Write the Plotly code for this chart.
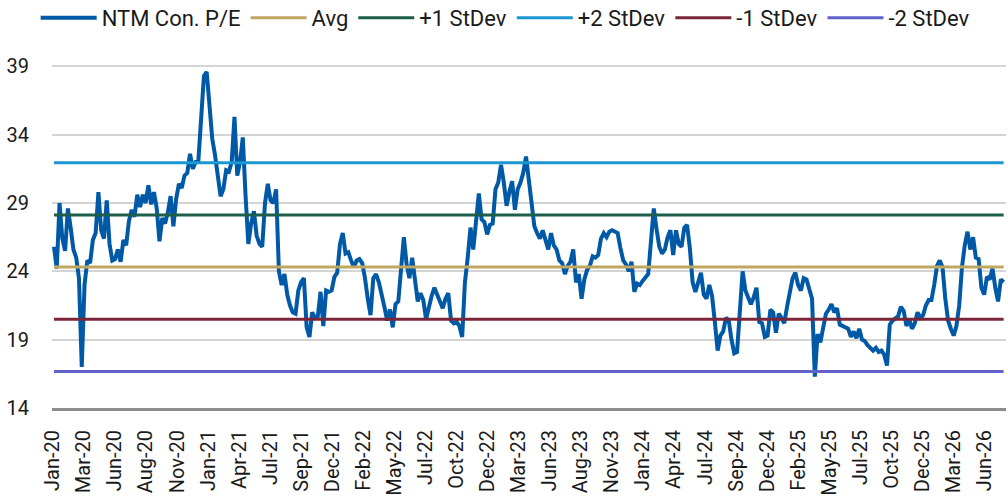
import plotly.graph_objects as go
import pandas as pd

# weekly NTM consensus P/E
pe = [
    25.8, 24.2, 29.0, 26.4, 25.5, 28.6, 27.2, 25.6, 25.0, 23.5,
    17.0, 23.0, 24.8, 24.6, 26.3, 26.8, 29.8, 27.0, 26.4, 29.2,
    26.0, 24.8, 24.9, 25.6, 24.7, 26.3, 25.9, 27.7, 28.5, 28.0,
    29.6, 28.7, 29.6, 29.0, 30.3, 28.9, 29.8, 28.6, 26.2, 27.9,
    27.5, 28.3, 29.5, 27.3, 29.3, 30.4, 30.1, 31.0, 31.2, 32.6,
    31.5, 32.0, 32.1, 35.6, 38.3, 38.6, 36.5, 33.7, 32.5, 31.0,
    29.5, 30.0, 31.4, 31.3, 32.0, 35.3, 31.0, 32.0, 33.8, 29.5,
    26.0, 27.5, 28.4, 26.6, 26.0, 25.8, 29.0, 30.4, 29.2, 29.0,
    30.0, 24.0, 23.0, 23.8, 22.3, 21.5, 21.0, 20.9, 22.6, 23.2,
    23.5, 19.9, 19.2, 21.0, 20.6, 20.7, 22.5, 20.0, 22.6, 22.5,
    22.6, 23.6, 23.9, 26.0, 26.8, 25.3, 25.4, 24.8, 24.3, 24.8,
    24.9, 24.6, 23.5, 22.0, 20.8, 23.5, 23.8, 23.2, 22.4, 21.4,
    20.4, 21.2, 19.9, 21.6, 21.8, 24.0, 26.5, 24.5, 23.5, 25.0,
    23.3, 21.8, 22.4, 21.9, 20.5, 21.5, 22.2, 22.8, 22.3, 21.8,
    21.3, 22.0, 22.4, 20.4, 20.2, 20.3, 20.0, 19.2, 23.2, 25.0,
    27.2, 25.6, 27.9, 29.7, 27.8, 27.6, 26.7, 27.4, 27.5, 30.0,
    30.5, 31.8, 30.5, 28.8, 29.8, 30.6, 28.5, 30.0, 30.5, 31.2,
    32.4, 30.6, 28.9, 27.3, 26.8, 26.4, 27.0, 26.2, 25.6, 26.8,
    25.9, 25.6, 24.8, 24.6, 23.8, 24.4, 24.7, 25.6, 23.2, 23.8,
    22.0, 23.4, 24.1, 24.4, 25.1, 25.0, 25.2, 26.4, 26.8, 26.5,
    26.9, 27.0, 26.9, 26.8, 25.7, 24.8, 24.5, 24.0, 24.7, 22.5,
    23.1, 23.0, 23.3, 23.5, 23.8, 26.2, 28.6, 27.1, 25.8, 25.3,
    25.6, 26.5, 27.0, 25.2, 27.0, 26.0, 25.8, 27.2, 27.4, 25.7,
    23.2, 22.5, 23.1, 23.9, 22.3, 22.0, 23.0, 22.2, 20.3, 18.2,
    19.3, 19.6, 20.6, 20.4, 19.0, 18.0, 18.1, 20.6, 24.0, 22.6,
    22.0, 21.6, 22.1, 22.8, 20.3, 20.2, 19.2, 19.3, 21.2, 21.0,
    19.5, 20.9, 20.6, 20.2, 21.4, 22.6, 23.5, 23.9, 23.0, 22.6,
    23.5, 23.4, 22.8, 22.0, 16.3, 19.4, 18.8, 20.0, 20.9, 21.2,
    21.6, 21.0, 21.3, 20.1, 20.0, 19.9, 19.8, 19.2, 19.6, 19.1,
    19.8, 19.0, 18.9, 18.6, 18.4, 18.2, 18.4, 18.1, 18.2, 17.9,
    17.1, 20.1, 20.4, 20.6, 20.7, 21.4, 21.1, 20.0, 20.5, 19.8,
    20.2, 21.0, 20.6, 20.8, 21.5, 21.9, 21.9, 23.0, 24.4, 24.8,
    24.3, 22.0, 20.4, 19.8, 19.3, 20.0, 21.5, 24.3, 25.9, 26.9,
    25.6, 26.5, 25.0, 24.9, 22.8, 22.3, 23.6, 23.4, 24.2, 22.8,
    21.8, 23.4, 23.2,
]
dates = pd.date_range('2020-01-03', periods=len(pe), freq='7D')

avg = 24.31
sd = 3.82

tick_labels = [
    'Jan-20', 'Mar-20', 'Jun-20', 'Aug-20', 'Nov-20', 'Jan-21', 'Apr-21',
    'Jul-21', 'Sep-21', 'Dec-21', 'Feb-22', 'May-22', 'Jul-22', 'Oct-22',
    'Dec-22', 'Mar-23', 'Jun-23', 'Aug-23', 'Nov-23', 'Jan-24', 'Apr-24',
    'Jul-24', 'Sep-24', 'Dec-24', 'Feb-25', 'May-25', 'Jul-25', 'Oct-25',
    'Dec-25', 'Mar-26', 'Jun-26',
]
# axis labels are spaced evenly, about 78.3 days apart
tick_vals = [pd.Timestamp('2019-12-31') + pd.Timedelta(days=78.3 * k)
             for k in range(len(tick_labels))]

bands = [
    ('Avg', avg, '#BFA661'),
    ('+1 StDev', avg + sd, '#1D5E4B'),
    ('+2 StDev', avg + 2 * sd, '#1B97D1'),
    ('-1 StDev', avg - sd, '#7B2638'),
    ('-2 StDev', avg - 2 * sd, '#6362CB'),
]

fig = go.Figure()
fig.add_trace(go.Scatter(
    x=dates, y=pe, name='NTM Con. P/E', mode='lines',
    line=dict(color='#0059A6', width=4),
))
for name, level, color in bands:
    fig.add_trace(go.Scatter(
        x=[dates[0], dates[-1]], y=[level, level], name=name, mode='lines',
        line=dict(color=color, width=3),
    ))

fig.update_layout(
    width=1008, height=499,
    margin=dict(l=52, r=2, t=39, b=91, autoexpand=False),
    paper_bgcolor='white', plot_bgcolor='white',
    font=dict(family='Roboto', size=20, color='#1a1a1a'),
    showlegend=True,
    legend=dict(
        orientation='h', x=0.475, xanchor='center', y=1.057, yanchor='middle',
        font=dict(size=22), itemwidth=56, tracegroupgap=0,
        bgcolor='rgba(0,0,0,0)',
    ),
    xaxis=dict(
        type='date',
        range=[pd.Timestamp('2019-12-29'), dates[-1] + pd.Timedelta(days=6)],
        tickvals=tick_vals, ticktext=tick_labels, tickangle=-90,
        showgrid=False, zeroline=False,
        showline=True, linecolor='#8c8c8c', linewidth=3,
        ticks='', ticklabelstandoff=11,
        tickfont=dict(size=20),
    ),
    yaxis=dict(
        range=[14, 41], tickvals=[14, 19, 24, 29, 34, 39],
        showgrid=True, gridcolor='#d4d4d4', gridwidth=1.5,
        zeroline=False, showline=False, ticks='',
        ticklabelstandoff=22, tickfont=dict(size=20),
    ),
)

# drop the default 8px page margin so the figure fills the window exactly
fig.write_html("out.html", config={'displayModeBar': False},
               post_script="document.body.style.margin='0';")
